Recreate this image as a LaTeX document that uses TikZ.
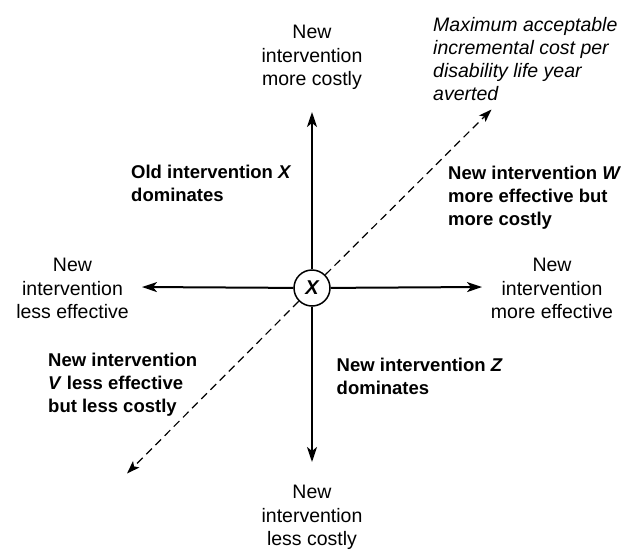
\documentclass[tikz,border=0pt]{standalone}
\usepackage{fontspec}
\setmainfont{Liberation Sans}
\usetikzlibrary{arrows.meta}
\begin{document}
\begin{tikzpicture}[x=1pt,y=-1pt,
  lbl/.style={inner sep=0pt, font=\fontsize{19.5}{23.5}\selectfont, align=center, anchor=north},
  note/.style={inner sep=0pt, font=\fontsize{19.5}{23.2}\selectfont\itshape, align=left, anchor=north west},
  quad/.style={inner sep=0pt, font=\fontsize{18.5}{23}\selectfont\bfseries, align=left, anchor=north west},
  axis/.style={line width=2pt, -{Stealth[length=15pt,width=10pt,inset=4pt]}},
  thr/.style={line width=1.2pt, dash pattern=on 8pt off 5pt, -{Stealth[length=13pt,width=9pt,inset=3pt]}},
  origin/.style={circle, draw, line width=1.5pt, fill=white, minimum size=36pt, inner sep=0pt, font=\fontsize{20}{24}\selectfont\bfseries\itshape}]
\useasboundingbox (0,0) rectangle (635,550);
\coordinate (ttip) at (312,112);
\coordinate (btip) at (312,462);
\coordinate (ltip) at (142,287);
\coordinate (rtip) at (482,287);
\coordinate (dup) at (491.5,109.5);
\coordinate (dlo) at (127,473.5);
\node[origin] (c) at (312,288) {X};
\draw[thr] (c) -- (dup);
\draw[thr] (c) -- (dlo);
\draw[axis] (c) -- (ttip);
\draw[axis] (c) -- (btip);
\draw[axis] (c) -- (ltip);
\draw[axis] (c) -- (rtip);
\node[lbl] (top) at (312,25) {New\\intervention\\more costly};
\node[lbl] (bot) at (312,485) {New\\intervention\\less costly};
\node[lbl] (lef) at (72.5,258) {New\\intervention\\less effective};
\node[lbl] (rig) at (552,258) {New\\intervention\\more effective};
\node[note] (max) at (433,17) {Maximum acceptable\\incremental cost per\\disability life year\\averted};
\node[quad] (qx) at (131,165) {Old intervention \textit{X}\\dominates};
\node[quad] (qw) at (448,166) {New intervention \textit{W}\\more effective but\\more costly};
\node[quad] (qv) at (48,353) {New intervention\\\textit{V} less effective\\but less costly};
\node[quad] (qz) at (336.5,358) {New intervention \textit{Z}\\dominates};
\end{tikzpicture}
\end{document}
